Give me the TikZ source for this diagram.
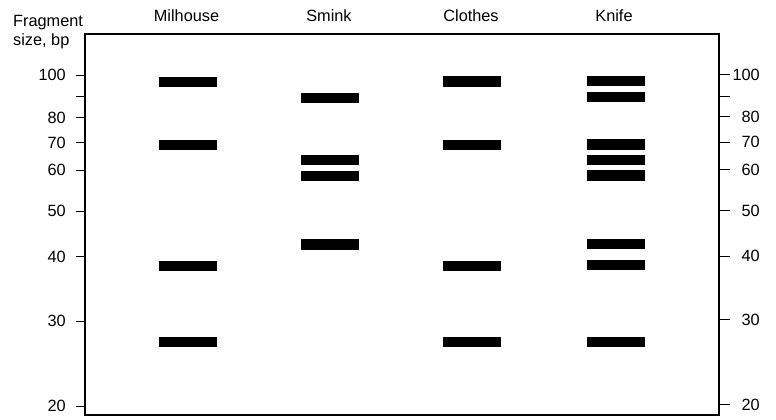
\documentclass[tikz,border=0pt]{standalone}
\usepackage{fontspec}
\setmainfont{Liberation Sans}
\begin{document}
\begin{tikzpicture}[x=1pt,y=-1pt,
  lbl/.style={font=\fontsize{16.3}{18}\selectfont, inner sep=0pt},
  band/.style={fill=black, draw=none, inner sep=0pt, minimum width=58pt, minimum height=10.5pt},
  frame/.style={line width=1.4pt},
  tick/.style={line width=1pt}]
\useasboundingbox (0,0) rectangle (776,420);
% gel frame
\draw[frame] (85,34) rectangle (719,415);
% column titles
\node[lbl, anchor=base west] (fr1) at (13,26.7) {Fragment};
\node[lbl, anchor=base west] (fr2) at (13,45.5) {size, bp};
\node[lbl, anchor=base] (tMil) at (186.5,21.7) {Milhouse};
\node[lbl, anchor=base] (tSmi) at (329,21.7) {Smink};
\node[lbl, anchor=base] (tClo) at (471,21.7) {Clothes};
\node[lbl, anchor=base] (tKni) at (614,21.7) {Knife};
% size scale, left side
\foreach \v/\y [count=\i] in {100/75,/96,80/117.5,70/142.5,60/170,50/211,40/256.5,30/321,20/406}{
  \coordinate (la\i) at (76,\y);
  \coordinate (lb\i) at (85,\y);
  \draw[tick] (la\i) -- (lb\i);
  \node[lbl, anchor=east] (ll\i) at (66,\y) {\v};
}
% size scale, right side
\foreach \v/\y [count=\i] in {100/74.5,/96,80/116.7,70/142,60/169.5,50/210.5,40/256,30/319.5,20/404.5}{
  \coordinate (ra\i) at (719,\y);
  \coordinate (rb\i) at (730,\y);
  \draw[tick] (ra\i) -- (rb\i);
  \node[lbl, anchor=east] (rl\i) at (760,\y) {\v};
}
% Milhouse lane
\foreach \y [count=\i] in {82,145,266,342}
  \node[band] (m\i) at (188,\y) {};
% Smink lane
\foreach \y [count=\i] in {98,160,176,244.5}
  \node[band] (s\i) at (330,\y) {};
% Clothes lane
\foreach \y [count=\i] in {81.5,145,266,342}
  \node[band] (c\i) at (472,\y) {};
% Knife lane
\foreach \y [count=\i] in {81,97,144.5,160,175.5,244,265,342}
  \node[band] (k\i) at (615.5,\y) {};
\end{tikzpicture}
\end{document}
